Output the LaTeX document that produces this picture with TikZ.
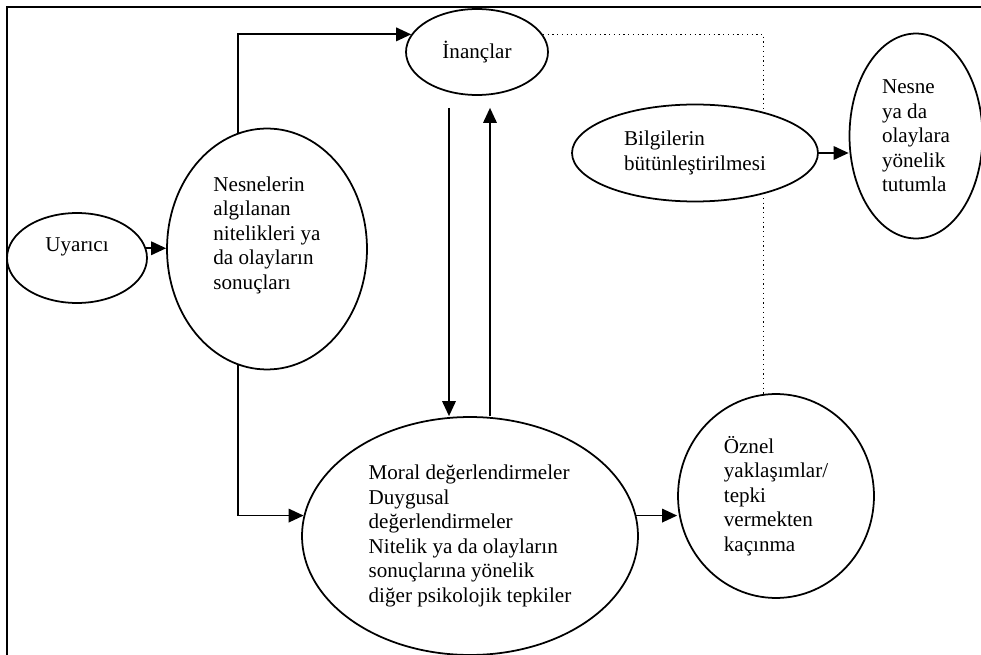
\documentclass[tikz,border=0pt]{standalone}
\usepackage{fontspec}
\setmainfont{Liberation Serif}
\usetikzlibrary{shapes.geometric,arrows.meta}

\begin{document}
\begin{tikzpicture}[x=0.02cm, y=-0.02cm,
  bulle/.style={ellipse, draw, line width=1pt, fill=white, inner sep=0pt,
    align=left, font=\fontsize{12}{14}\selectfont},
  fleche/.style={-{Triangle[length=0.3cm, width=0.27cm]}, line width=1pt}]
  % Cadre
  \useasboundingbox (0,0) rectangle (981,655);
  \draw[line width=1.4pt] (7,655) -- (7,7) -- (981,7);

  % Ellipses
  \node[bulle, minimum width=2.8cm, minimum height=1.8cm, text depth=0.54cm] (uyarici) at (77,258) {Uyarıcı};
  \node[bulle, minimum width=4cm, minimum height=4.82cm] (nesneler) at (267,249)
    {Nesnelerin\\algılanan\\nitelikleri ya\\da olayların\\sonuçları\\\strut};
  \node[bulle, minimum width=2.84cm, minimum height=1.72cm] (inanclar) at (477,52) {İnançlar};
  \node[bulle, minimum width=6.72cm, minimum height=4.76cm] (tepkiler) at (470,536)
    {Moral değerlendirmeler\\Duygusal\\değerlendirmeler\\Nitelik ya da olayların\\sonuçlarına yönelik\\diğer psikolojik tepkiler};
  \node[bulle, minimum width=3.92cm, minimum height=4.08cm] (oznel) at (776,496)
    {Öznel\\yaklaşımlar/\\tepki\\vermekten\\kaçınma};
  \node[bulle, minimum width=2.66cm, minimum height=4.1cm] (nesne) at (916,136)
    {Nesne\\ya da\\olaylara\\yönelik\\tutumla};

  % Ligne pointillée
  \draw[dotted, line width=0.7pt] (inanclar.15) -| (oznel.97);

  \node[bulle, minimum width=4.92cm, minimum height=1.94cm] (bilgi) at (695,153)
    {Bilgilerin\\bütünleştirilmesi};

  % Flèches
  \draw[fleche] (uyarici.8) -- (uyarici.8 -| nesneler.west);
  \draw[fleche] (nesneler.104) |- (inanclar.165);
  \draw[fleche] (nesneler.256) |- (tepkiler.173);
  \coordinate (asagi) at ([xshift=-0.56cm, yshift=-0.24cm]inanclar.south);
  \coordinate (yukari) at ([xshift=0.26cm, yshift=-0.24cm]inanclar.south);
  \draw[fleche] (asagi) -- (asagi |- tepkiler.north);
  \draw[fleche] (yukari |- tepkiler.north) -- (yukari);
  \draw[fleche] (tepkiler.7) -- (tepkiler.7 -| oznel.west);
  \draw[fleche] (bilgi.east) -- (bilgi.east -| nesne.west);
\end{tikzpicture}
\end{document}
